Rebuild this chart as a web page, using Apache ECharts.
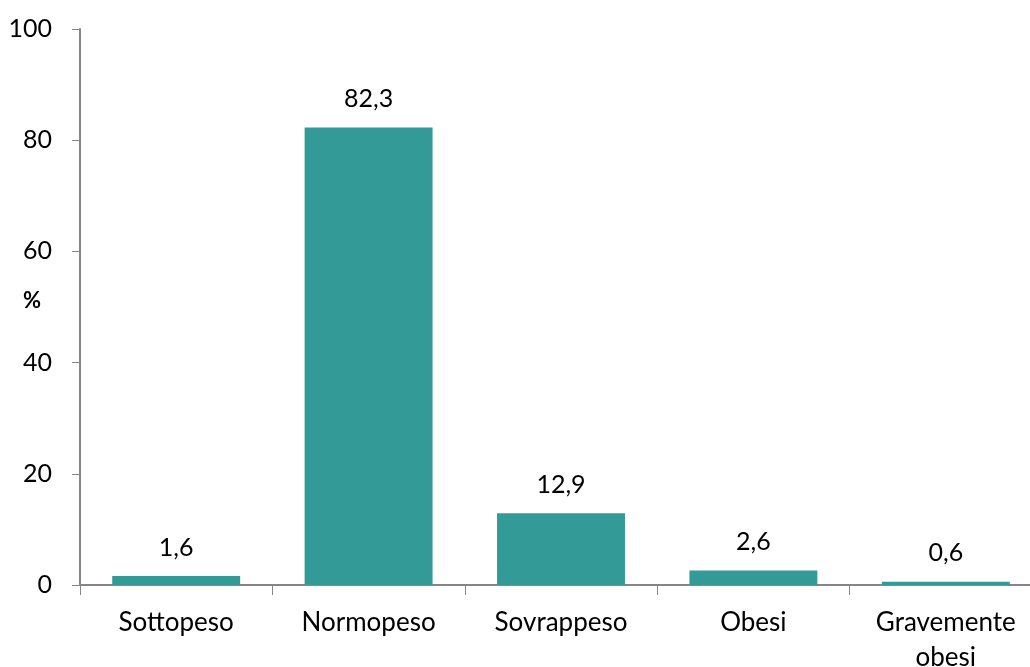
<!DOCTYPE html>
<html><head><meta charset="utf-8">
<script src="https://cdn.jsdelivr.net/npm/echarts@6/dist/echarts.min.js"></script>
<style>html,body{margin:0;padding:0;background:#fff}#c{width:1030px;height:667px}</style>
</head><body><div id="c"></div>
<script>
const categories = ['Sottopeso', 'Normopeso', 'Sovrappeso', 'Obesi', 'Gravemente\nobesi'];
const values = [1.6, 82.3, 12.9, 2.6, 0.6];
const yTicks = [0, 20, 40, 60, 80, 100];
const yAxisName = '%';

const font = 'Lato, "Open Sans", sans-serif';
const chart = echarts.init(document.getElementById('c'), null, {renderer: 'canvas'});
chart.setOption({
  animation: false,
  grid: {left: 80, width: 962, top: 29, height: 556, containLabel: false, outerBoundsMode: 'none'},
  xAxis: {
    type: 'category', data: categories,
    axisLine: {lineStyle: {color: '#868686', width: 2}},
    axisTick: {show: true, length: 10, lineStyle: {color: '#868686', width: 1}},
    axisLabel: {color: '#000', fontFamily: font, fontSize: 26, margin: 20, lineHeight: 35}
  },
  yAxis: {
    type: 'value', min: yTicks[0], max: yTicks[yTicks.length - 1], interval: 20,
    splitLine: {show: false},
    axisLine: {show: true, lineStyle: {color: '#868686', width: 2}},
    axisTick: {show: true, length: 8, lineStyle: {color: '#868686', width: 1}},
    axisLabel: {color: '#000', fontFamily: font, fontSize: 25, margin: 28}
  },
  graphic: [{
    type: 'text', left: 23, top: 290,
    style: {text: yAxisName, font: 'bold 22px ' + font, fill: '#000'}
  }],
  series: [{
    type: 'bar', data: values, barWidth: '66.5%',
    itemStyle: {color: '#339a98'},
    label: {
      show: true, position: 'top', distance: 16, color: '#000',
      fontFamily: font, fontSize: 25,
      formatter: p => String(p.value).replace('.', ',')
    }
  }]
});
</script></body></html>
